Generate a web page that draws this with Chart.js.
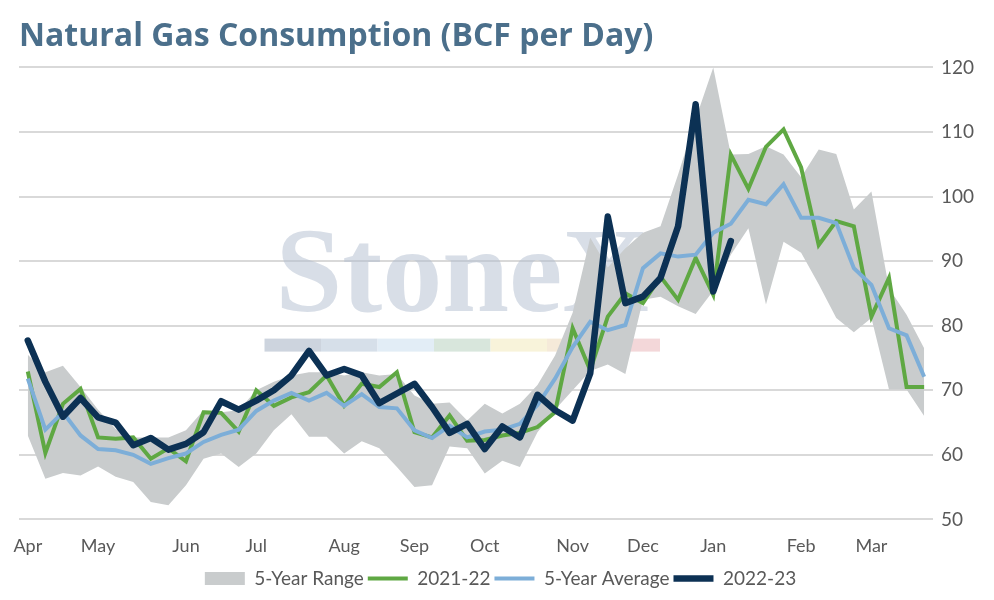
<!DOCTYPE html>
<html>
<head>
<meta charset="utf-8">
<script src="https://cdn.jsdelivr.net/npm/chart.js@4/dist/chart.umd.min.js"></script>
<style>
  html, body { margin: 0; padding: 0; background: #fff; }
  #wrap { width: 994px; height: 600px; }
</style>
</head>
<body>
<div id="wrap"><canvas id="gasChart" width="994" height="600"></canvas></div>
<script>
// month tick labels and the week index they sit on
const monthNames = ['Apr', 'May', 'Jun', 'Jul', 'Aug', 'Sep', 'Oct', 'Nov', 'Dec', 'Jan', 'Feb', 'Mar'];
const monthWeek = [0, 4, 9, 13, 18, 22, 26, 31, 35, 39, 44, 48];
const weekCount = 52;

const rangeHigh = [75.5, 72.8, 73.8, 70.5, 67.0, 64.0, 62.7, 62.7, 62.7, 63.8, 66.9, 66.6, 66.9, 70.0,
    71.3, 72.3, 72.8, 72.8, 72.3, 72.8, 72.3, 72.5, 69.2, 67.9, 68.1, 65.3, 67.9, 66.4, 67.9, 70.8,
    75.4, 82.0, 93.6, 89.0, 92.0, 94.4, 95.4, 103.4, 112.0, 120.0, 106.5, 106.6, 107.8, 106.5, 103.0,
    107.3, 106.6, 98.0, 100.8, 85.8, 81.7, 76.5];
const rangeLow = [63.0, 56.3, 57.2, 56.8, 58.2, 56.6, 55.8, 52.7, 52.2, 55.3, 59.4, 60.2, 58.1, 60.2,
    63.8, 66.3, 62.8, 62.8, 60.2, 62.1, 61.0, 58.1, 55.0, 55.3, 61.3, 61.0, 57.1, 59.1, 58.1, 63.5,
    67.0, 70.0, 73.0, 74.0, 72.5, 84.0, 84.5, 83.0, 81.8, 85.4, 91.0, 95.1, 83.3, 93.0, 91.3,
    86.4, 81.2, 79.0, 81.2, 70.1, 70.1, 66.0];
const season2122 = [72.9, 60.3, 67.9, 70.2, 62.7, 62.5, 62.7, 59.4, 61.0, 59.0, 66.6, 66.5, 63.6, 70.0,
    67.6, 68.9, 69.7, 72.3, 67.6, 71.0, 70.5, 72.8, 63.5, 62.7, 66.1, 62.2, 62.3, 63.0, 63.4, 64.3,
    66.6, 79.6, 73.1, 81.4, 85.0, 83.5, 87.6, 84.0, 90.5, 84.8, 106.5, 101.2, 107.7, 110.4, 104.5,
    92.5, 96.2, 95.4, 81.4, 87.4, 70.5, 70.5];
const fiveYearAvg = [71.8, 63.9, 66.6, 63.0, 60.9, 60.7, 60.0, 58.6, 59.5, 60.2, 62.0, 63.1, 63.9, 66.8,
    68.4, 69.6, 68.4, 69.6, 67.6, 69.4, 67.4, 67.2, 63.8, 62.6, 64.5, 62.7, 63.6, 63.9, 64.8, 67.7,
    71.8, 76.7, 80.6, 79.3, 80.1, 88.9, 91.2, 90.7, 91.0, 94.4, 95.8, 99.5, 98.8, 101.9, 96.7,
    96.7, 95.9, 88.9, 86.3, 79.6, 78.5, 72.1];
const season2223 = [77.7, 71.3, 65.9, 68.8, 65.8, 65.0, 61.5, 62.6, 60.8, 61.7, 63.5, 68.3, 67.0, 68.4,
    70.0, 72.3, 76.1, 72.3, 73.3, 72.3, 68.0, 69.5, 71.0, 67.4, 63.4, 64.8, 60.9, 64.4, 62.7, 69.3,
    66.9, 65.3, 72.6, 96.9, 83.5, 84.5, 87.4, 95.4, 114.3, 85.3, 93.1];

const yMin = 50, yMax = 120, yStep = 10;

var labels = [];
for (var i = 0; i < weekCount; i++) labels.push('');
monthWeek.forEach(function(w, k) { labels[w] = monthNames[k]; });

const textGray = '#595959';

// faint StoneX logo behind the lines
const watermark = {
    id: 'watermark',
    beforeDatasetsDraw: function(chart) {
        const ctx = chart.ctx;
        const a = chart.chartArea;
        const cx = a.left + a.width * 0.485;
        ctx.save();
        ctx.fillStyle = 'rgba(178, 190, 207, 0.5)';
        ctx.font = 'bold 120px "Liberation Serif", "DejaVu Serif", serif';
        ctx.textAlign = 'center';
        ctx.textBaseline = 'alphabetic';
        ctx.fillText('StoneX', cx, a.top + a.height * 0.54);
        const bar = ['#cdd4de', '#d6dfe9', '#e2edf6', '#d8e6dc', '#f8f3da', '#f5ead9', '#f3d7d9'];
        const bw = 56.5, bx = cx - bw * bar.length / 2, by = a.top + a.height * 0.6;
        bar.forEach(function(c, k) {
            ctx.fillStyle = c;
            ctx.fillRect(bx + k * bw, by, bw, 13);
        });
        ctx.restore();
    }
};

const ctx = document.getElementById('gasChart').getContext('2d');
new Chart(ctx, {
    type: 'line',
    data: {
        labels: labels,
        datasets: [
            {
                label: '5-Year Range',
                data: rangeHigh,
                borderWidth: 0,
                borderColor: 'rgba(0,0,0,0)',
                backgroundColor: '#c9cccd',
                pointRadius: 0,
                fill: '+1',
                order: 10
            },
            {
                label: 'rangeLow',
                data: rangeLow,
                borderWidth: 0,
                borderColor: 'rgba(0,0,0,0)',
                backgroundColor: '#c9cccd',
                pointRadius: 0,
                fill: false,
                order: 11
            },
            {
                label: '2021-22',
                data: season2122,
                borderColor: '#5fa843',
                backgroundColor: '#5fa843',
                borderWidth: 4,
                pointRadius: 0,
                tension: 0,
                order: 3
            },
            {
                label: '5-Year Average',
                data: fiveYearAvg,
                borderColor: '#7daed8',
                backgroundColor: '#7daed8',
                borderWidth: 4,
                pointRadius: 0,
                tension: 0,
                order: 2
            },
            {
                label: '2022-23',
                data: season2223,
                borderColor: '#0c3154',
                backgroundColor: '#0c3154',
                borderWidth: 6.5,
                borderJoinStyle: 'round',
                borderCapStyle: 'round',
                pointRadius: 0,
                tension: 0,
                order: 1
            }
        ]
    },
    options: {
        responsive: false,
        animation: false,
        layout: { padding: { left: 19, right: 12, top: 0, bottom: 2 } },
        scales: {
            x: {
                offset: true,
                grid: { display: false },
                border: { display: false },
                ticks: {
                    autoSkip: false,
                    maxRotation: 0,
                    padding: 8,
                    color: textGray,
                    font: { family: 'Lato', size: 18 }
                }
            },
            y: {
                position: 'right',
                min: yMin,
                max: yMax,
                grid: { color: '#d9d9d9', lineWidth: 2, drawTicks: false },
                border: { display: false },
                ticks: {
                    stepSize: yStep,
                    padding: 8,
                    color: textGray,
                    font: { family: 'Lato', size: 19 }
                }
            }
        },
        plugins: {
            title: {
                display: true,
                text: 'Natural Gas Consumption (BCF per Day)',
                align: 'start',
                color: '#4b6f8b',
                font: { family: 'Open Sans', size: 32, weight: 'bold' },
                padding: { top: 18, bottom: 11 }
            },
            legend: {
                position: 'bottom',
                labels: {
                    color: textGray,
                    font: { family: 'Lato', size: 19 },
                    usePointStyle: true,
                    boxWidth: 40,
                    boxHeight: 13,
                    pointStyleWidth: 40,
                    padding: 4,
                    filter: function(item) { return item.text !== 'rangeLow'; },
                    generateLabels: function(chart) {
                        return chart.data.datasets.map(function(ds, idx) {
                            const isRange = idx === 0;
                            return {
                                text: ds.label,
                                datasetIndex: idx,
                                fillStyle: ds.backgroundColor,
                                strokeStyle: isRange ? ds.backgroundColor : ds.borderColor,
                                lineWidth: isRange ? 0 : ds.borderWidth,
                                pointStyle: isRange ? 'rect' : 'line',
                                fontColor: textGray,
                                hidden: false
                            };
                        });
                    }
                }
            },
            tooltip: { enabled: false }
        }
    },
    plugins: [watermark]
});
</script>
</body>
</html>
